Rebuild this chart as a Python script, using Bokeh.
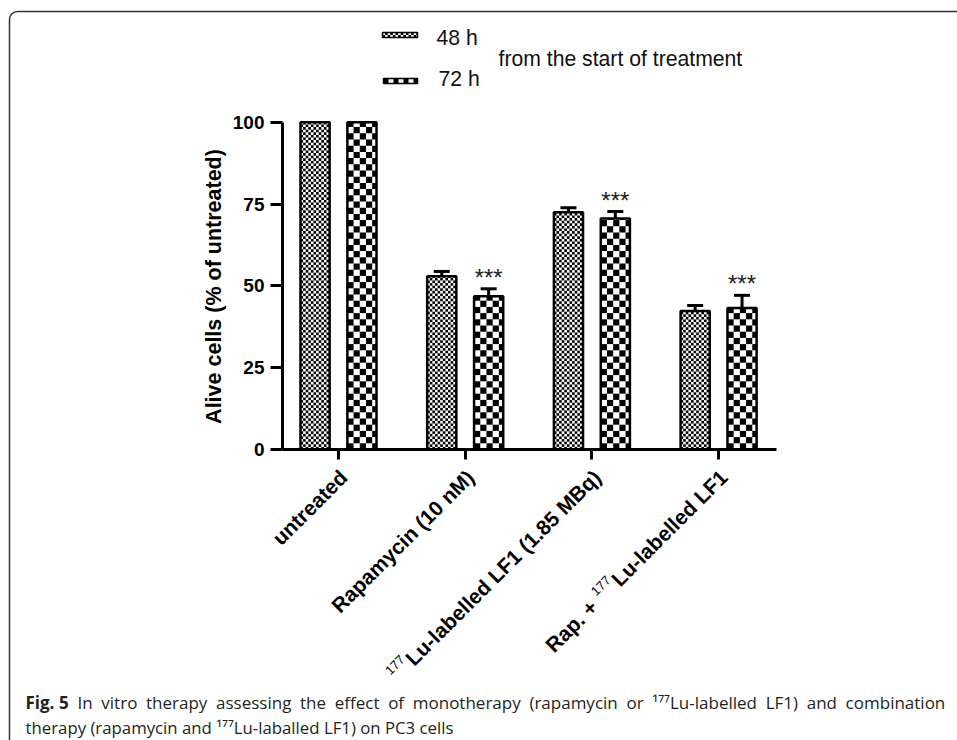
import math
from bokeh.plotting import figure
from bokeh.models import Range1d, FixedTicker, Whisker, TeeHead, ColumnDataSource, LinearAxis
from bokeh.core.properties import value
from bokeh.embed import file_html
from bokeh.resources import INLINE

# ---------------- data ----------------
categories = ["untreated", "Rapamycin (10 nM)", "Lu-labelled LF1 (1.85 MBq)", "Lu-labelled LF1"]
cat_prefix = ["", "", "", "Rap. +"]
cat_sup = ["", "", "177", "177"]
series_names = ["48 h", "72 h"]
alive_48h = [100.0, 52.9, 72.5, 42.3]
alive_72h = [100.0, 46.8, 70.6, 43.2]
sem_48h = [0.0, 1.5, 1.4, 1.7]
sem_72h = [0.0, 2.3, 2.1, 3.9]
signif_72h = ["", "***", "***", "***"]
y_ticks = [0, 25, 50, 75, 100]
y_title = "Alive cells (% of untreated)"
legend_note = "from the start of treatment"
caption_bold = "Fig. 5"
caption_l1 = ("In vitro therapy assessing the effect of monotherapy (rapamycin or "
              "\u00b9\u2077\u2077Lu-labelled LF1) and combination")
caption_l2 = "therapy (rapamycin and \u00b9\u2077\u2077Lu-laballed LF1) on PC3 cells"

# ---------------- layout constants ----------------
W, H = 957, 740
AXIS_X = 282          # px of the y axis line
AXIS_Y = 449          # px of the x axis line (value 0)
PX = 126.7            # px per category
S = 3.273             # px per % unit
X0, X1 = -0.442, 3.458
DODGE = 0.185
BAR_W = 0.23
FONT = "Liberation Sans"
CAP_FONT = "Open Sans"


def px2x(px):
    return X0 + (px - AXIS_X) / PX


def py2y(py):
    return (AXIS_Y - py) / S


p = figure(width=W, height=H, output_backend="svg", toolbar_location=None,
           x_range=Range1d(px2x(0), px2x(W)), y_range=Range1d(py2y(H), py2y(0)),
           x_axis_type=None, y_axis_type=None, min_border=0)
p.grid.visible = False
p.outline_line_color = None
p.background_fill_color = "white"
p.border_fill_color = "white"

xs = list(range(len(categories)))
x48 = [x - DODGE for x in xs]
x72 = [x + DODGE for x in xs]


def checker(xl, xr, yb, yt, cell_px):
    """black cells of a checkerboard filling a data-space box"""
    cx, cy = cell_px / PX, cell_px / S
    L, R, B, T = [], [], [], []
    ncol = int(math.ceil((xr - xl) / cx - 1e-9))
    nrow = int(math.ceil((yt - yb) / cy - 1e-9))
    for r in range(nrow):
        for k in range(ncol):
            if (r + k) % 2 == 0:
                L.append(xl + k * cx)
                R.append(min(xl + (k + 1) * cx, xr))
                B.append(yb + r * cy)
                T.append(min(yb + (r + 1) * cy, yt))
    return L, R, B, T


# bars: white fill, checker cells, outline
for xv_list, vals, cell in [(x48, alive_48h, 2.6), (x72, alive_72h, 6.2)]:
    p.vbar(x=xv_list, top=vals, bottom=0, width=BAR_W, fill_color="white", line_color=None)
    L, R, B, T = [], [], [], []
    for xv, v in zip(xv_list, vals):
        l, r, b, t = checker(xv - BAR_W / 2, xv + BAR_W / 2, 0, v, cell)
        L += l; R += r; B += b; T += t
    p.quad(left=L, right=R, bottom=B, top=T, fill_color="black", line_color=None)
    p.vbar(x=xv_list, top=vals, bottom=0, width=BAR_W, fill_color=None, line_color="black",
           line_width=2.5)

wx, wl, wu = [], [], []
for xv, v, e in list(zip(x48, alive_48h, sem_48h)) + list(zip(x72, alive_72h, sem_72h)):
    if e > 0:
        wx.append(xv); wl.append(v); wu.append(v + e)
wsrc = ColumnDataSource(dict(x=wx, lower=wl, upper=wu))
p.add_layout(Whisker(source=wsrc, base="x", lower="lower", upper="upper", dimension="height",
                     line_color="black", line_width=3,
                     upper_head=TeeHead(size=16, line_width=3, line_color="black"),
                     lower_head=None))

sx, sy, st = [], [], []
for xv, v, e, s in zip(x72, alive_72h, sem_72h, signif_72h):
    if s:
        sx.append(xv); sy.append(v + e + 3.5); st.append(s)
p.text(x=sx, y=sy, text=st, text_font=value(FONT), text_font_size="24px",
       text_align="center", text_baseline="middle", text_color="#222222")

# axes at fixed locations
ya = LinearAxis(fixed_location=X0, ticker=FixedTicker(ticks=y_ticks), bounds=(0, 100))
ya.axis_line_width = 3
ya.major_tick_line_width = 3
ya.major_tick_out = 12
ya.major_tick_in = 0
ya.minor_tick_line_color = None
ya.major_label_text_font = FONT
ya.major_label_text_font_style = "bold"
ya.major_label_text_font_size = "19px"
ya.major_label_text_color = "black"
ya.major_label_standoff = 6
p.add_layout(ya, "left")

xa = LinearAxis(fixed_location=0, ticker=FixedTicker(ticks=xs), bounds=(X0, X1))
xa.major_label_overrides = {x: "" for x in xs}
xa.axis_line_width = 3
xa.major_tick_line_width = 3
xa.major_tick_out = 10
xa.major_tick_in = 0
xa.minor_tick_line_color = None
p.add_layout(xa, "below")

# y axis title
p.text(x=[px2x(213)], y=[py2y(286)], text=[y_title], angle=math.pi / 2, text_font=value(FONT),
       text_font_size="21.5px", text_font_style="bold", text_align="center", text_baseline="middle",
       text_color="black")

# category labels (rotated)
ARIAL_B = {' ': 278, '(': 333, ')': 333, '+': 584, '-': 333, '.': 278, 'B': 722, 'F': 611,
           'L': 611, 'M': 833, 'N': 722, 'R': 722, 'a': 556, 'b': 611, 'c': 556, 'd': 611,
           'e': 556, 'i': 278, 'l': 278, 'm': 889, 'n': 611, 'p': 611, 'q': 611, 'r': 389,
           't': 333, 'u': 611, 'y': 556}


def text_w(s, size):
    return sum(ARIAL_B.get(ch, 556) for ch in s) * size / 1000.0


ANG = math.pi / 4
C = math.cos(ANG)
LAB_SIZE = 21
SUP_SIZE = 13
END_DX = -3     # px right of tick
END_Y = 465     # page y of top-right anchor
mx, my, mt, ux, uy, ut, fx, fy, ft = [], [], [], [], [], [], [], [], []
for i, cat in enumerate(categories):
    ex = xs[i] + END_DX / PX
    ey = py2y(END_Y)
    mx.append(ex); my.append(ey); mt.append(cat)
    if cat_sup[i]:
        d = text_w(cat, LAB_SIZE) + 2
        ux.append(ex - d * C / PX); uy.append(ey - d * C / S + 1 / S); ut.append(cat_sup[i])
        if cat_prefix[i]:
            d2 = d + 3 * 0.556 * SUP_SIZE + 6
            fx.append(ex - d2 * C / PX); fy.append(ey - d2 * C / S); ft.append(cat_prefix[i])
lab_kw = dict(angle=ANG, text_align="right", text_baseline="top", text_font=value(FONT),
              text_color="black")
p.text(x=mx + fx, y=my + fy, text=mt + ft, text_font_size=f"{LAB_SIZE}px", text_font_style="bold",
       **lab_kw)
p.text(x=ux, y=uy, text=ut, text_font_size=f"{SUP_SIZE}px", **lab_kw)

# legend
for (l, r, t, b), cell in [((382, 417, 32, 37), 2.6), ((383, 417, 78, 83), 5.0)]:
    xl, xr, yt, yb = px2x(l), px2x(r), py2y(t), py2y(b)
    p.quad(left=[xl], right=[xr], top=[yt], bottom=[yb], fill_color="white", line_color=None)
    L, R, B, T = checker(xl, xr, yb, yt, cell)
    p.quad(left=L, right=R, bottom=B, top=T, fill_color="black", line_color=None)
    p.quad(left=[xl], right=[xr], top=[yt], bottom=[yb], fill_color=None, line_color="black",
           line_width=1.5)
p.text(x=[px2x(436), px2x(438), px2x(498)], y=[py2y(36.5), py2y(77.5), py2y(57.5)],
       text=[series_names[0], series_names[1], legend_note], text_font=value(FONT),
       text_font_size="21.2px", text_align="left", text_baseline="middle", text_color="#111111")

# caption (first line justified: widened word spacing)
cap_kw = dict(text_font=value(CAP_FONT), text_align="left", text_baseline="middle",
              text_color="#231f20")
p.text(x=[px2x(25)], y=[py2y(702)], text=[caption_bold], text_font_style="bold",
       text_font_size="17px", **cap_kw)
p.text(x=[px2x(77)], y=[py2y(702)], text=[caption_l1.replace(" ", " \u2005")],
       text_font_size="17px", **cap_kw)
p.text(x=[px2x(25)], y=[py2y(727)], text=[caption_l2], text_font_size="16.8px", **cap_kw)

# rounded frame of the figure panel (extends past the right/bottom edges)
p.quad(left=[px2x(9)], right=[px2x(1200)], top=[py2y(11)], bottom=[py2y(1200)], fill_color=None,
       line_color="#333333", line_width=1.5, border_radius=8)

open("out.html", "w").write(file_html(p, INLINE))
